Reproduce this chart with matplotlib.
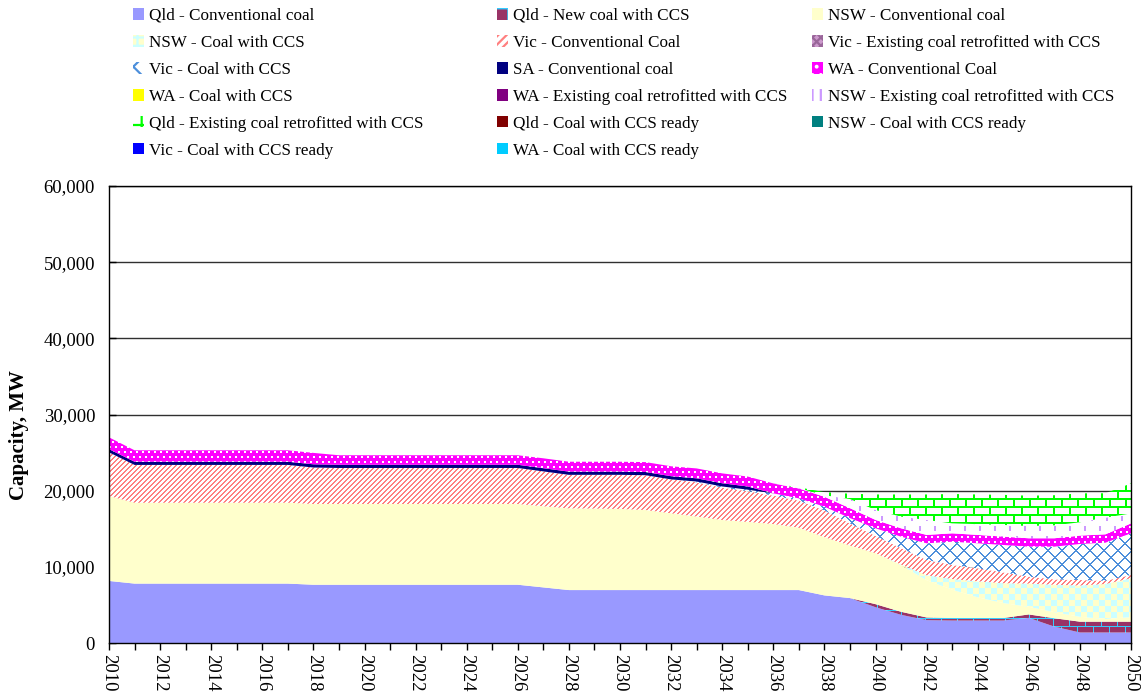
import numpy as np
import matplotlib
matplotlib.use("Agg")
import matplotlib.pyplot as plt
from matplotlib.colors import to_rgb
from matplotlib.patches import Patch
from matplotlib.path import Path
from matplotlib.ticker import MultipleLocator, FuncFormatter

plt.rcParams['font.family'] = ['Liberation Serif', 'DejaVu Serif']
plt.rcParams['hatch.linewidth'] = 1.6

years = np.arange(2010, 2051)

# capacity by region / technology, MW
qld_conv = [8150] + [7800] * 7 + [7650] * 9 + [7300] + [6950] * 10 + \
    [6250, 5900, 4700, 3700, 3000, 2950, 2950, 2950, 3300, 2150, 1380, 1380, 1380]
qld_new_ccs = [0] * 30 + [400, 400, 350, 330, 330, 330, 450, 1100, 1420, 1420, 1420]
nsw_conv = [11150] + [10620] * 7 + [10600] * 9 + \
    [10650, 10730, 10700, 10650, 10510, 10080, 9650, 9200, 8950, 8670, 8190, 7650,
     6900, 6700, 6100, 4900, 3720, 2720, 1970, 1000, 800, 650, 350, 600]
nsw_ccs = [0] * 31 + [100, 650, 1400, 2100, 2600, 3050, 3600, 4100, 4600, 5100]
vic_conv = [5730] + [4960] * 7 + [4790] + [4730] * 8 + \
    [4580, 4400, 4430, 4480, 4570, 4450, 4500, 4250, 4030, 3730, 3550, 3500,
     2900, 2260, 2160, 2000, 1850, 1700, 1420, 910, 700, 720, 420, 430]
vic_retro = [0] * 41
vic_ccs = [0] * 23 + [100, 150, 200, 300, 300, 500, 700, 1000, 1500, 2190, 3050,
                      3290, 3600, 3940, 4300, 4730, 5000, 5470]
sa_conv = [420] * 26 + [0] * 15
wa_conv = [1550] + [1500] * 8 + [1250] * 8 + [1300] * 13 + [1100] * 10 + [1300]
wa_ccs = [0] * 41
wa_retro = [0] * 41
nsw_retro = [0] * 27 + [50, 200, 1200, 1300, 1530, 1960, 1310, 1410, 1530, 1610,
                        1700, 1750, 2190, 1310]
qld_retro = [0] * 27 + [100, 400, 700, 2040, 2910, 3350, 3850, 3900, 3950, 3980,
                        3950, 3800, 3200, 3940]
qld_ready = [0] * 41
nsw_ready = [0] * 41
vic_ready = [0] * 41
wa_ready = [0] * 41

labels = ["Qld - Conventional coal", "Qld - New coal with CCS", "NSW - Conventional coal",
          "NSW - Coal with CCS", "Vic - Conventional Coal", "Vic - Existing coal retrofitted with CCS",
          "Vic - Coal with CCS", "SA - Conventional coal", "WA - Conventional Coal",
          "WA - Coal with CCS", "WA - Existing coal retrofitted with CCS",
          "NSW - Existing coal retrofitted with CCS", "Qld - Existing coal retrofitted with CCS",
          "Qld - Coal with CCS ready", "NSW - Coal with CCS ready", "Vic - Coal with CCS ready",
          "WA - Coal with CCS ready"]
series = [qld_conv, qld_new_ccs, nsw_conv, nsw_ccs, vic_conv, vic_retro, vic_ccs, sa_conv,
          wa_conv, wa_ccs, wa_retro, nsw_retro, qld_retro, qld_ready, nsw_ready, vic_ready,
          wa_ready]

fig = plt.figure(figsize=(11.47, 6.94), dpi=100)
ax = fig.add_axes([109 / 1147, 51 / 694, 1022 / 1147, 457 / 694])
W, H = 1022, 457
ii, jj = np.indices((H, W))


def two_tone(mask, fg, bg):
    return np.where(mask[..., None], to_rgb(fg), to_rgb(bg))


def bricks(h, w, lw):
    row = ii // h
    horiz = (ii % h) < lw
    vert = ((jj + (row % 2) * (w // 2)) % w) < lw
    return horiz | vert


# textures for the patterned areas
tex = {
    1: two_tone(bricks(8, 16, 1), '#33CCFF', '#993366'),
    3: two_tone(((ii // 6 + jj // 6) % 2) == 0, '#CCFFFF', '#FFFFCC'),
    4: two_tone(((ii + jj) % 5) < 2, '#FF8080', 'white'),
    6: two_tone((((ii + jj) % 14) < 2) | (((jj - ii) % 14) < 2), '#4D8FDB', 'white'),
    8: two_tone(((ii % 5) < 2) & (((jj + 3 * ((ii // 5) % 2)) % 6) < 2), 'white', '#FF00FF'),
    11: two_tone(((ii % 10) < 5) & (((jj + 8 * ((ii // 10) % 2)) % 15) < 2), '#CC99FF', 'white'),
    12: two_tone(bricks(8, 16, 2), '#00FF00', 'white'),
}
solid = {0: '#9999FF', 2: '#FFFFCC', 5: '#996699', 7: '#000080', 9: '#FFFF00',
         10: '#800080', 13: '#800000', 14: '#008080', 15: '#0000FF', 16: '#00CCFF'}

base = np.zeros(len(years))
for k, vals in enumerate(series):
    top = base + np.array(vals, dtype=float)
    if k in tex:
        verts = list(zip(years, top)) + list(zip(years[::-1], base[::-1]))
        clip = Path(verts + [verts[0]], closed=True)
        im = ax.imshow(tex[k], extent=(2010, 2050, 0, 60000), aspect='auto',
                       interpolation='nearest', origin='upper', zorder=2)
        im.set_clip_path(clip, ax.transData)
    else:
        ax.fill_between(years, base, top, facecolor=solid[k], linewidth=0, zorder=2)
    base = top

ax.set_xlim(2010, 2050)
ax.set_ylim(0, 60000)
ax.set_axisbelow(True)
ax.yaxis.grid(True, color='#303030', linewidth=1.0)
ax.yaxis.set_major_locator(MultipleLocator(10000))
ax.yaxis.set_major_formatter(FuncFormatter(lambda v, p: f"{int(v):,}"))
ax.xaxis.set_major_locator(MultipleLocator(2))
ax.xaxis.set_minor_locator(MultipleLocator(1))
ax.tick_params(axis='x', which='both', direction='out', length=5, width=1,
               labelsize=13.5, labelrotation=-90, pad=3)
ax.tick_params(axis='y', direction='in', length=5, width=1, labelsize=13.5, pad=10)
for s in ax.spines.values():
    s.set_linewidth(1.0)
    s.set_color('black')
    s.set_zorder(3)

ax.set_ylabel("Capacity, MW", fontsize=15, fontweight='bold')
ax.yaxis.set_label_coords(-0.078, 0.455)

# legend, three columns filled row by row
handles = [
    Patch(facecolor='#9999FF'),
    Patch(facecolor='#993366', edgecolor='#33CCFF', hatch='+', linewidth=0),
    Patch(facecolor='#FFFFCC'),
    Patch(facecolor='#FFFFCC', edgecolor='#CCFFFF', hatch='++', linewidth=0),
    Patch(facecolor='white', edgecolor='#FF8080', hatch='////', linewidth=0),
    Patch(facecolor='#CC99CC', edgecolor='#996699', hatch='xxxx', linewidth=0),
    Patch(facecolor='white', edgecolor='#4D8FDB', hatch='x', linewidth=0),
    Patch(facecolor='#000080'),
    Patch(facecolor='#FF00FF', edgecolor='white', hatch='..', linewidth=0),
    Patch(facecolor='#FFFF00'),
    Patch(facecolor='#800080'),
    Patch(facecolor='white', edgecolor='#CC99FF', hatch='||', linewidth=0),
    Patch(facecolor='white', edgecolor='#00FF00', hatch='+', linewidth=0),
    Patch(facecolor='#800000'),
    Patch(facecolor='#008080'),
    Patch(facecolor='#0000FF'),
    Patch(facecolor='#00CCFF'),
]
col_x = [133, 497, 812]
for c in range(3):
    idx = list(range(c, len(labels), 3))
    fig.legend([handles[i] for i in idx], [labels[i] for i in idx],
               loc='upper left', bbox_to_anchor=(col_x[c] / 1147, 1 - 8 / 694),
               frameon=False, fontsize=12.3, borderpad=0, borderaxespad=0,
               handlelength=0.65, handleheight=0.65, handletextpad=0.3,
               labelspacing=0.64)

fig.savefig("out.png", dpi=100)
